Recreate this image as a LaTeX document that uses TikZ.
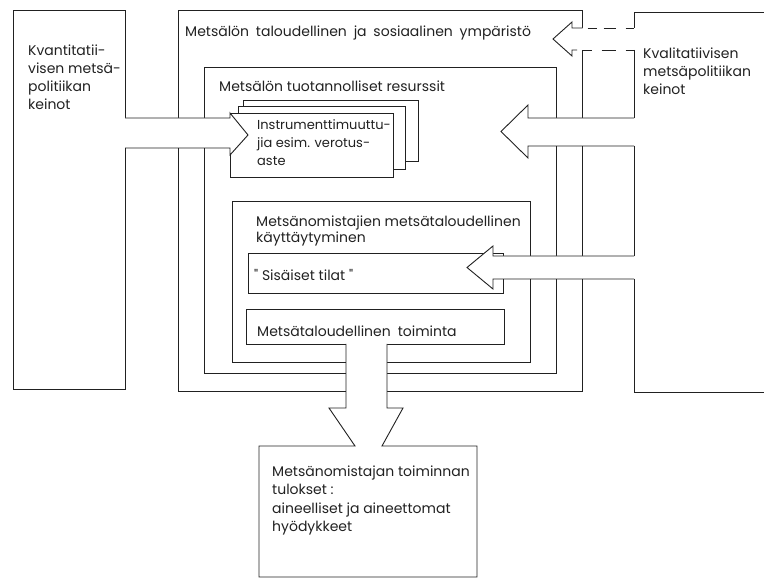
\documentclass[tikz,border=0pt]{standalone}
\usepackage{fontspec}
\setmainfont{Poppins}[Ligatures=TeXOff]
\definecolor{ink}{gray}{0.13}
\newcommand\linestack[1]{\vtop{\halign{##\hfil\cr#1\crcr}}}
\begin{document}
\begin{tikzpicture}[x=1pt,y=-1pt,
  box/.style={draw=ink, line width=0.9pt, line join=miter},
  lbl/.style={anchor=base west, inner sep=0pt, text=ink,
              font=\fontsize{14}{18}\selectfont},
  whitefill/.style={fill=white, draw=none}]
\useasboundingbox (0,0) rectangle (764,580);
% outer environment box
\draw[box] (582.5,28) -- (582.5,10) -- (178,10) -- (178,391) -- (582.5,391) -- (582.5,50);
% production resources box
\draw[box] (204,67) rectangle (556,373);
% behaviour box
\draw[box] (232,201) rectangle (530,362);
% inner states box
\draw[box] (248,253) rectangle (503,293);
% activity box
\draw[box] (246,309) rectangle (504,344);
% left box
\draw[box] (125,118) -- (125,10) -- (13,10) -- (13,389) -- (125,389) -- (125,148);
% right box
\draw[box] (764,12) -- (634,12) -- (634,28);
\draw[box] (634,50) -- (634,118);
\draw[box] (634,146) -- (634,256);
\draw[box] (634,279) -- (634,392) -- (764,392);
% instrument stack
\draw[box, fill=white] (243,100) rectangle (418,161);
\draw[box, fill=white] (238,106) rectangle (405,169);
\fill[white] (230,113) rectangle (393,177);
\draw[box] (230,155) -- (230,177) -- (393,177) -- (393,113) -- (230,113);
% left block arrow
\fill[whitefill] (125,118) -- (230,118) -- (230,113) -- (248,135) -- (230,155) -- (230,148) -- (125,148) -- cycle;
\draw[box] (125,118) -- (230,118) -- (230,113) -- (248,135) -- (230,155) -- (230,148) -- (125,148);
% middle right block arrow
\fill[whitefill] (634,118) -- (528,118) -- (528,105) -- (501,131.5) -- (528,158) -- (528,146) -- (634,146) -- cycle;
\draw[box] (634,118) -- (528,118) -- (528,105) -- (501,131.5) -- (528,158) -- (528,146) -- (634,146);
% inner states block arrow
\fill[whitefill] (634,256) -- (493,256) -- (493,246) -- (467,267.5) -- (493,289) -- (493,279) -- (634,279) -- cycle;
\draw[box] (634,256) -- (493,256) -- (493,246) -- (467,267.5) -- (493,289) -- (493,279) -- (634,279);
% downward block arrow and results box
\fill[whitefill] (346,343.3) -- (346,408) -- (329,408) -- (355,446) -- (382,446) -- (403,408) -- (387,408) -- (387,343.3) -- cycle;
\draw[box] (346,344) -- (346,408) -- (329,408) -- (355,446) -- (259,446) -- (259,577) -- (477,577) -- (477,446) -- (382,446) -- (403,408) -- (387,408) -- (387,344);
% dashed block arrow
\fill[whitefill] (634,28) -- (572,28) -- (572,22) -- (553,39) -- (572,56) -- (572,50) -- (634,50) -- cycle;
\draw[box] (582.5,28) -- (572,28) -- (572,22) -- (553,39) -- (572,56) -- (572,50) -- (577,50);
\draw[box, dash pattern=on 9pt off 7pt on 12pt off 10pt on 9pt off 5pt, dash phase=47pt] (582.5,28) -- (634,28);
\draw[box, dash pattern=on 9pt off 10pt on 14pt off 10pt on 20pt off 1pt] (582.5,50) -- (634,50);
% texts
\node[lbl] (kvant) at (28,56) {\linestack{Kvantitatii-\cr visen metsä-\cr politiikan\cr keinot}};
\node[lbl] (ymp) at (185,37) {\spaceskip=6.8pt Metsälön taloudellinen ja sosiaalinen ympäristö};
\node[lbl] (res) at (219,92) {Metsälön tuotannolliset resurssit};
\node[lbl, font=\fontsize{13}{18}\selectfont] (instr) at (257,130) {\linestack{Instrumenttimuuttu-\cr jia esim. verotus-\cr aste}};
\node[lbl] (kval) at (643,59) {\linestack{Kvalitatiivisen\cr metsäpolitiikan\cr keinot}};
\node[lbl, font=\fontsize{14}{16}\selectfont] (kayt) at (256,227) {\linestack{Metsänomistajien metsätaloudellinen\cr käyttäytyminen}};
\node[lbl] (sis) at (254,281) {" Sisäiset tilat "};
\node[lbl] (toim) at (257,337) {\spaceskip=7pt Metsätaloudellinen toiminta};
\node[lbl, font=\fontsize{14}{18.5}\selectfont] (tulos) at (272,476) {\linestack{Metsänomistajan toiminnan\cr tulokset :\cr aineelliset ja aineettomat\cr hyödykkeet}};
\end{tikzpicture}
\end{document}
